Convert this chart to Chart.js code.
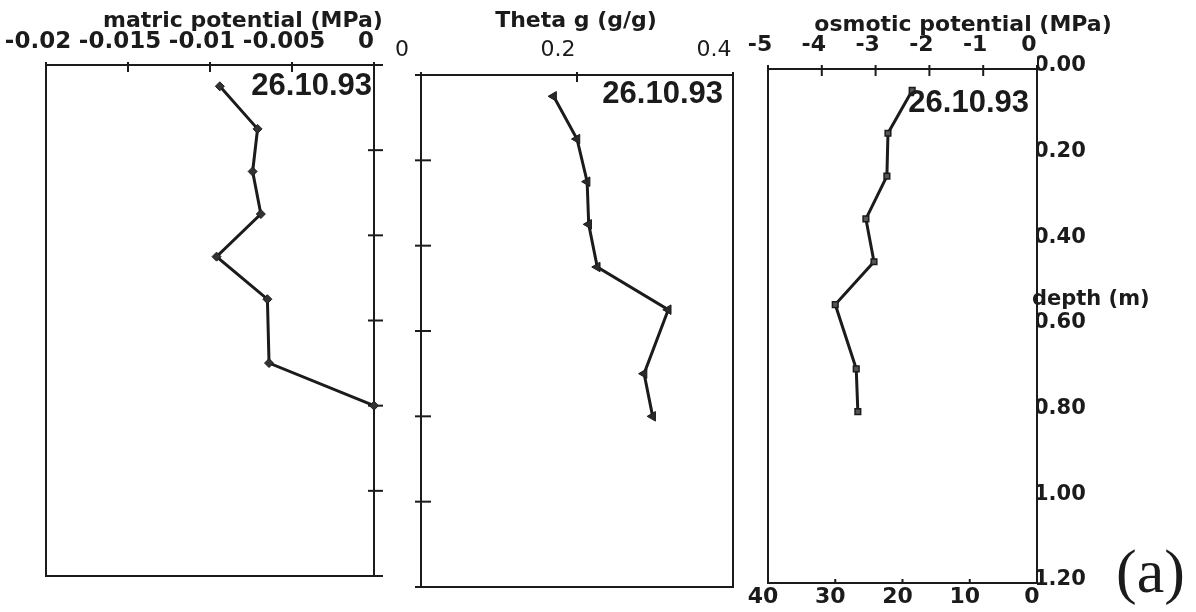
<!DOCTYPE html>
<html>
<head>
<meta charset="utf-8">
<script src="https://cdn.jsdelivr.net/npm/chart.js@4.4.1/dist/chart.umd.min.js"></script>
<style>
  html, body { margin: 0; padding: 0; background: #fff; overflow: hidden; }
  #wrap { position: relative; width: 1196px; height: 612px; background: #fff; }
  canvas { position: absolute; left: 0; top: 0; }
</style>
</head>
<body>
<div id="wrap">
  <canvas id="matric" width="1196" height="612"></canvas>
  <canvas id="theta" width="1196" height="612"></canvas>
  <canvas id="osmotic" width="1196" height="612"></canvas>
</div>
<script>
// Soil profile sampled on 26.10.93: depth of each sample (m)
const sampleDate = '26.10.93';
const depthM = [0.05, 0.15, 0.25, 0.35, 0.45, 0.55, 0.70, 0.80];
const matricMPa = [-0.0094, -0.0071, -0.0074, -0.0069, -0.0096, -0.0065, -0.0064, 0.0];
const thetaG = [0.17, 0.20, 0.213, 0.215, 0.226, 0.317, 0.286, 0.297];
const osmoticMPa = [-2.32, -2.77, -2.79, -3.18, -3.03, -3.75, -3.36, -3.33];

// Tick labels
const matricTicks = ['-0.02', '-0.015', '-0.01', '-0.005', '0'];
const thetaTicks = ['0', '0.2', '0.4'];
const osmoticTicks = ['-5', '-4', '-3', '-2', '-1', '0'];
const lowerTicks = ['40', '30', '20', '10', '0'];
const depthTicks = ['0.00', '0.20', '0.40', '0.60', '0.80', '1.00', '1.20'];

const INK = '#1b1b1b';
Chart.defaults.font.family = "'DejaVu Sans', sans-serif";
Chart.defaults.color = INK;

// Pick the written label whose value matches the tick
function labelFrom(list) {
  return v => list.find(s => Math.abs(parseFloat(s) - v) < 1e-9) ?? '';
}

// Pin an axis to a fixed thickness so every panel's frame lands where it should
function fixedSize(size) {
  return function (scale) {
    if (scale.isHorizontal()) scale.height = size; else scale.width = size;
    scale.paddingLeft = 0; scale.paddingRight = 0;
    scale.paddingTop = 0; scale.paddingBottom = 0;
  };
}

// Rectangle around the plotting area
function frame() {
  return {
    id: 'frame',
    beforeDatasetsDraw(chart) {
      const a = chart.chartArea, ctx = chart.ctx;
      ctx.save();
      ctx.strokeStyle = INK; ctx.lineWidth = 2;
      ctx.strokeRect(a.left, a.top, a.right - a.left, a.bottom - a.top);
      ctx.restore();
    }
  };
}

// Tick marks that cross the frame line
function crossTicks(specs) {
  return {
    id: 'crossTicks',
    beforeDatasetsDraw(chart) {
      const a = chart.chartArea, ctx = chart.ctx;
      ctx.save();
      ctx.strokeStyle = INK; ctx.lineWidth = 2;
      specs.forEach(s => {
        const sc = chart.scales[s.scale];
        sc.ticks.forEach(t => {
          const p = sc.getPixelForValue(t.value);
          ctx.beginPath();
          if (s.side === 'top') { ctx.moveTo(p, a.top - s.outer); ctx.lineTo(p, a.top + s.inner); }
          if (s.side === 'bottom') { ctx.moveTo(p, a.bottom + s.outer); ctx.lineTo(p, a.bottom - s.inner); }
          if (s.side === 'left') { ctx.moveTo(a.left - s.outer, p); ctx.lineTo(a.left + s.inner, p); }
          if (s.side === 'right') { ctx.moveTo(a.right + s.outer, p); ctx.lineTo(a.right - s.inner, p); }
          ctx.stroke();
        });
      });
      ctx.restore();
    }
  };
}

// Free text: axis titles, sample date, panel letter
function texts(items) {
  return {
    id: 'texts',
    afterDraw(chart) {
      const ctx = chart.ctx;
      ctx.save();
      ctx.fillStyle = INK;
      ctx.textBaseline = 'alphabetic';
      items.forEach(t => {
        ctx.font = t.font;
        ctx.textAlign = t.align;
        ctx.fillText(t.text, t.x, t.y);
      });
      ctx.restore();
    }
  };
}

const TITLE_FONT = "bold 22px 'DejaVu Sans'";
const DATE_FONT = "bold 31px 'Liberation Sans'";

function profile(xs) {
  return depthM.map((d, i) => ({ x: xs[i], y: d }));
}

function baseOptions(padding) {
  return {
    responsive: false,
    animation: false,
    events: [],
    layout: { autoPadding: false, padding },
    plugins: { legend: { display: false }, tooltip: { enabled: false } }
  };
}

function lineSet(points, marker) {
  return Object.assign({
    data: points,
    showLine: true,
    borderColor: INK,
    borderWidth: 3,
    tension: 0,
    clip: false,
    pointBorderColor: INK
  }, marker);
}

const noGrid = { display: false, drawTicks: false };
const noBorder = { display: false };

// Panel 1: matric potential
new Chart(document.getElementById('matric'), {
  type: 'scatter',
  data: {
    datasets: [lineSet(profile(matricMPa), {
      pointStyle: 'rectRot', pointRadius: 4.5, pointBackgroundColor: '#333', pointBorderWidth: 1
    })]
  },
  options: Object.assign(baseOptions({ left: 46, right: 822, top: 0, bottom: 36 }), {
    scales: {
      x: {
        type: 'linear', position: 'top', min: -0.02, max: 0,
        grid: noGrid, border: noBorder,
        ticks: {
          stepSize: 0.005, autoSkip: false, maxRotation: 0, minRotation: 0,
          padding: 9, labelOffset: -8, color: INK,
          font: { size: 23, weight: 'bold' },
          callback: labelFrom(matricTicks)
        },
        afterFit: fixedSize(65)
      },
      y: {
        type: 'linear', position: 'right', min: 0, max: 1.2, reverse: true,
        grid: noGrid, border: noBorder,
        ticks: { display: false, stepSize: 0.2 },
        afterFit: fixedSize(0)
      }
    }
  }),
  plugins: [
    frame(),
    crossTicks([
      { scale: 'x', side: 'top', inner: 7, outer: 3 },
      { scale: 'y', side: 'right', inner: 6, outer: 9 }
    ]),
    texts([
      { text: 'matric potential (MPa)', x: 243, y: 27, font: TITLE_FONT, align: 'center' },
      { text: sampleDate, x: 372, y: 95, font: DATE_FONT, align: 'right' }
    ])
  ]
});

// Panel 2: gravimetric water content
new Chart(document.getElementById('theta'), {
  type: 'scatter',
  data: {
    datasets: [lineSet(profile(thetaG), {
      pointStyle: 'triangle', pointRotation: -90, pointRadius: 5.5,
      pointBackgroundColor: '#2a2a2a', pointBorderWidth: 1
    })]
  },
  options: Object.assign(baseOptions({ left: 421, right: 463, top: 0, bottom: 25 }), {
    scales: {
      x: {
        type: 'linear', position: 'top', min: 0, max: 0.4,
        grid: noGrid, border: noBorder,
        ticks: {
          stepSize: 0.2, autoSkip: false, maxRotation: 0, minRotation: 0,
          padding: 12, labelOffset: -19, color: INK,
          font: { size: 22, weight: 'normal' },
          callback: labelFrom(thetaTicks)
        },
        afterFit: fixedSize(75)
      },
      y: {
        type: 'linear', position: 'left', min: 0, max: 1.2, reverse: true,
        grid: noGrid, border: noBorder,
        ticks: { display: false, stepSize: 0.2 },
        afterFit: fixedSize(0)
      }
    }
  }),
  plugins: [
    frame(),
    crossTicks([
      { scale: 'x', side: 'top', inner: 7, outer: 3 },
      { scale: 'y', side: 'left', inner: 10, outer: 6 }
    ]),
    texts([
      { text: 'Theta g (g/g)', x: 576, y: 27, font: TITLE_FONT, align: 'center' },
      { text: sampleDate, x: 723, y: 103, font: DATE_FONT, align: 'right' }
    ])
  ]
});

// Panel 3: osmotic potential, with the depth axis on the right
new Chart(document.getElementById('osmotic'), {
  type: 'scatter',
  data: {
    datasets: [lineSet(profile(osmoticMPa), {
      pointStyle: 'rect', pointRadius: 4, pointBackgroundColor: '#555', pointBorderWidth: 1.5
    })]
  },
  options: Object.assign(baseOptions({ left: 768, right: 99, top: 0, bottom: 0 }), {
    scales: {
      x: {
        type: 'linear', position: 'top', min: -5, max: 0,
        grid: noGrid, border: noBorder,
        ticks: {
          stepSize: 1, autoSkip: false, maxRotation: 0, minRotation: 0,
          padding: 11, labelOffset: -8, color: INK,
          font: { size: 22, weight: 'bold' },
          callback: labelFrom(osmoticTicks)
        },
        afterFit: fixedSize(69)
      },
      x2: {
        type: 'linear', axis: 'x', position: 'bottom', min: 0, max: 40, reverse: true,
        grid: noGrid, border: noBorder,
        ticks: {
          stepSize: 10, autoSkip: false, maxRotation: 0, minRotation: 0,
          padding: 1, labelOffset: -5, color: INK,
          font: { size: 22, weight: 'bold' },
          callback: labelFrom(lowerTicks)
        },
        afterFit: fixedSize(29)
      },
      y: {
        type: 'linear', position: 'right', min: 0, max: 1.2, reverse: true,
        grid: noGrid, border: noBorder,
        ticks: {
          stepSize: 0.2, autoSkip: false, padding: -3, labelOffset: -3, color: INK,
          font: { size: 21, weight: 'bold' },
          callback: labelFrom(depthTicks)
        },
        afterFit: fixedSize(60)
      }
    }
  }),
  plugins: [
    frame(),
    crossTicks([
      { scale: 'x', side: 'top', inner: 7, outer: 4 },
      { scale: 'x2', side: 'bottom', inner: 4, outer: 0 }
    ]),
    texts([
      { text: 'osmotic potential (MPa)', x: 963, y: 31, font: TITLE_FONT, align: 'center' },
      { text: sampleDate, x: 1029, y: 112, font: DATE_FONT, align: 'right' },
      { text: 'depth (m)', x: 1032, y: 305, font: "bold 21px 'DejaVu Sans'", align: 'left' },
      { text: '(a)', x: 1116, y: 592, font: "62px 'Liberation Serif'", align: 'left' }
    ])
  ]
});
</script>
</body>
</html>
